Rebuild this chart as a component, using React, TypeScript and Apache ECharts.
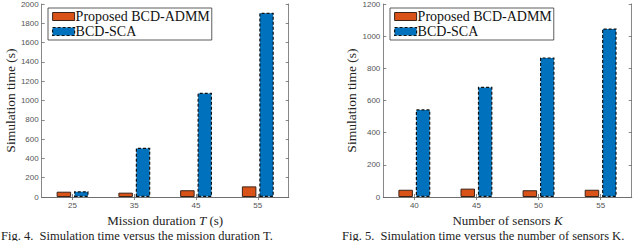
import React, { useEffect, useRef } from "react";
import * as echarts from "echarts";

const durationCats = ["25", "35", "45", "55"];
const admmByDuration = [55, 45, 70, 110];
const scaByDuration = [60, 510, 1080, 1910];

const sensorCats = ["40", "45", "50", "55"];
const admmBySensors = [45, 52, 42, 45];
const scaBySensors = [545, 685, 868, 1048];

const NAME_ADMM = "Proposed BCD-ADMM";
const NAME_SCA = "BCD-SCA";

const AX = "#6a6a6a";
const SERIF = '"Liberation Serif", serif';
const SANS = '"Liberation Sans", sans-serif';

export default function App() {
  const ref = useRef<HTMLDivElement>(null);
  useEffect(() => {
    if (!ref.current) return;
    const chart = echarts.init(ref.current, undefined, { renderer: "svg" });

    const serifText = { fontFamily: SERIF, fontSize: 13, color: "#222", lineHeight: 14 };

    const xBottom = (gridIndex: number, data: string[], nameRich: string) => ({
      type: "category" as const,
      gridIndex,
      data,
      position: "bottom" as const,
      boundaryGap: true,
      axisLine: { show: true, lineStyle: { color: AX, width: 0.8 } },
      axisTick: { show: true, inside: true, length: 3, alignWithLabel: true, lineStyle: { color: AX, width: 0.8 } },
      axisLabel: { show: true, color: "#555", fontSize: 8, fontFamily: SANS, margin: 4 },
      name: nameRich,
      nameLocation: "middle" as const,
      nameGap: 11,
      nameTextStyle: {
        ...serifText,
        rich: {
          r: { ...serifText },
          i: { ...serifText, fontStyle: "italic" },
        },
      },
    });
    const xTop = (gridIndex: number, data: string[]) => ({
      type: "category" as const,
      gridIndex,
      data,
      position: "top" as const,
      boundaryGap: true,
      axisLine: { show: true, lineStyle: { color: AX, width: 0.8 } },
      axisTick: { show: true, inside: true, length: 3, alignWithLabel: true, lineStyle: { color: AX, width: 0.8 } },
      axisLabel: { show: false },
    });
    const yLeft = (gridIndex: number, max: number, nameGap: number) => ({
      type: "value" as const,
      gridIndex,
      min: 0,
      max,
      interval: 200,
      position: "left" as const,
      splitLine: { show: false },
      axisLine: { show: true, lineStyle: { color: AX, width: 0.8 } },
      axisTick: { show: true, inside: true, length: 3, lineStyle: { color: AX, width: 0.8 } },
      axisLabel: {
        color: "#555",
        fontSize: 8,
        fontFamily: SANS,
        margin: 3,
        formatter: (v: number) => String(v),
      },
      name: "Simulation time (s)",
      nameLocation: "middle" as const,
      nameGap,
      nameTextStyle: { fontFamily: SERIF, fontSize: 13.5, color: "#222" },
    });
    const yRight = (gridIndex: number, max: number) => ({
      type: "value" as const,
      gridIndex,
      min: 0,
      max,
      interval: 200,
      position: "right" as const,
      splitLine: { show: false },
      axisLine: { show: true, lineStyle: { color: AX, width: 0.8 } },
      axisTick: { show: true, inside: true, length: 3, lineStyle: { color: AX, width: 0.8 } },
      axisLabel: { show: false },
    });

    const admmStyle = { color: "#D95319", borderColor: "#3b2418", borderWidth: 1 };
    const scaStyle = { color: "#0072BD", borderColor: "#111", borderWidth: 1.2, borderType: [3, 2] as any };

    const legend = (left: number) => ({
      orient: "vertical" as const,
      left,
      top: 8,
      icon: "rect",
      itemWidth: 22,
      itemHeight: 8,
      itemGap: 0,
      padding: [1, 2, 1, 4],
      backgroundColor: "#fff",
      borderColor: "#333",
      borderWidth: 0.8,
      borderRadius: 0,
      selectedMode: false,
      textStyle: {
        fontFamily: SERIF,
        fontSize: 14,
        color: "#111",
        lineHeight: 15,
        padding: [0, 0, 0, -4],
      },
      data: [
        { name: NAME_ADMM, itemStyle: admmStyle },
        { name: NAME_SCA, itemStyle: scaStyle },
      ],
    });

    const bar = (name: string, xi: number, yi: number, data: number[], style: any) => ({
      type: "bar" as const,
      name,
      xAxisIndex: xi,
      yAxisIndex: yi,
      data,
      barWidth: 14.5,
      barGap: "20%",
      itemStyle: style,
    });

    chart.setOption({
      animation: false,
      textStyle: { fontFamily: SERIF },
      grid: [
        { left: 41.7, right: 351.3, top: 2, bottom: 44 },
        { left: 383.3, right: 8.3, top: 2, bottom: 44 },
      ],
      xAxis: [
        xBottom(0, durationCats, "{r|Mission duration }{i|T}{r| (s)}"),
        xBottom(1, sensorCats, "{r|Number of sensors }{i|K}"),
        xTop(0, durationCats),
        xTop(1, sensorCats),
      ],
      yAxis: [yLeft(0, 2000, 21), yLeft(1, 1200, 20), yRight(0, 2000), yRight(1, 1200)],
      legend: [legend(48), legend(390)],
      series: [
        bar(NAME_ADMM, 0, 0, admmByDuration, admmStyle),
        bar(NAME_SCA, 0, 0, scaByDuration, scaStyle),
        bar(NAME_ADMM, 1, 1, admmBySensors, admmStyle),
        bar(NAME_SCA, 1, 1, scaBySensors, scaStyle),
      ],
      graphic: [
        {
          type: "text",
          left: 1,
          top: 229,
          style: {
            text: "Fig. 4.  Simulation time versus the mission duration T.",
            font: `12.5px ${SERIF}`,
            fill: "#222",
          },
        },
        {
          type: "text",
          left: 342,
          top: 229,
          style: {
            text: "Fig. 5.  Simulation time versus the number of sensors K.",
            font: `12.5px ${SERIF}`,
            fill: "#222",
          },
        },
      ],
    });
    return () => chart.dispose();
  }, []);
  return (
    <div style={{ position: "absolute", left: 0, top: 0 }}>
      <div ref={ref} style={{ width: 640, height: 241 }} />
    </div>
  );
}
